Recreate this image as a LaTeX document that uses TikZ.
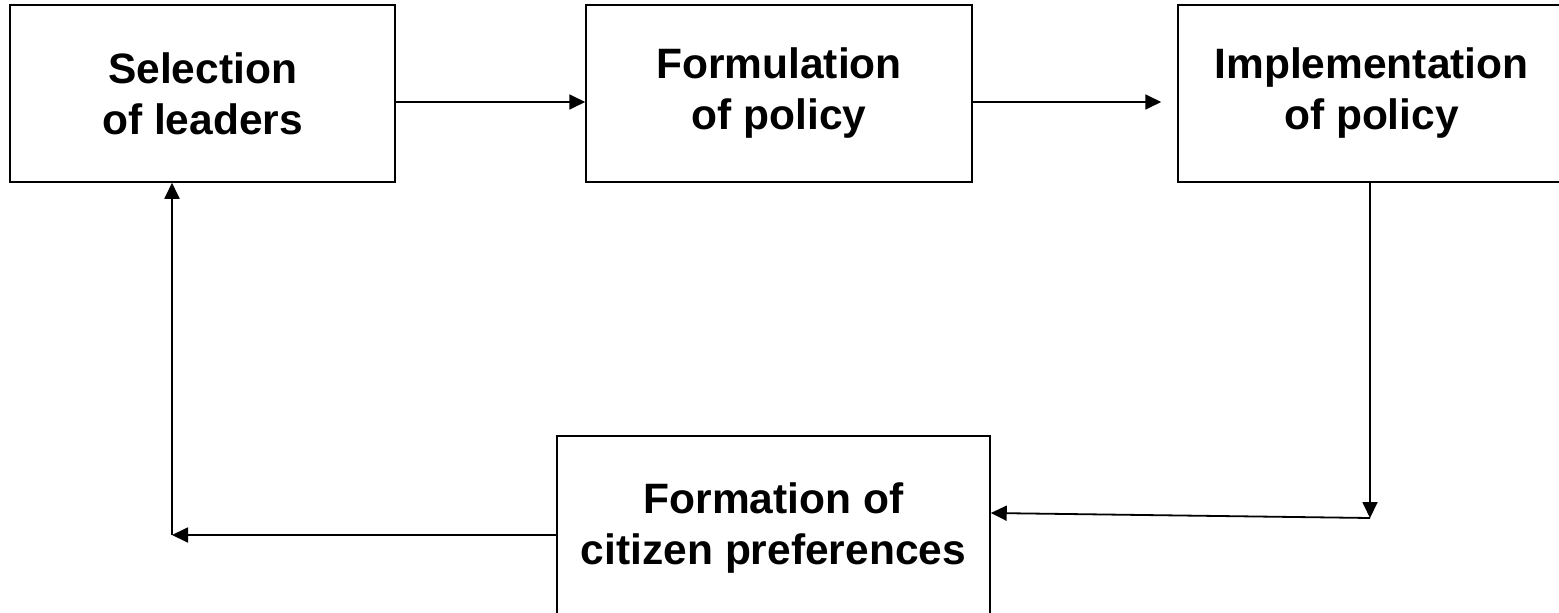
\documentclass[tikz,border=0pt]{standalone}
\usepackage{fontspec}
\setmainfont{Liberation Sans}
\usepackage{tikz}
\usetikzlibrary{arrows.meta}
\usetikzlibrary{positioning}
\tikzset{
    stage/.style={
           rectangle,
           draw=black, line width=1.5pt,
           minimum height=177pt,
           inner sep=0pt,
           align=center,
           font=\fontsize{42.5}{51}\selectfont\bfseries,
           },
    flow/.style={
           -{Triangle[length=16pt,width=15pt]},
           line width=1.8pt,
           },
}
\begin{document}
\begin{tikzpicture}[x=1pt,y=-1pt]

 % page frame
 \useasboundingbox (0,0) rectangle (1559,613);

 % the four stages
 \node[stage, minimum width=385pt] (SELECT) at (202.5,93.5)
 {Selection\\of leaders};
 \node[stage, minimum width=386pt] (FORMUL) at (779,93.5)
 {Formulation\\of policy};
 \node[stage, minimum width=387pt] (IMPLEM) at (1371.5,93.5)
 {Implementation\\of policy};
 \node[stage, minimum width=433pt, minimum height=184pt] (PREFS) at (773.5,528)
 {Formation of\\citizen preferences};

 % corners of the feedback loop
 \coordinate (DOWNEND) at (1370,518);
 \coordinate (LEFTEND) at (172,535);

 % forward path
 \draw[flow] (SELECT.east |- 0,102) -- (FORMUL.west |- 0,102);
 \draw[flow, shorten >=16pt] (FORMUL.east |- 0,102) -- (IMPLEM.west |- 0,102);

 % feedback path
 \draw[flow] (IMPLEM.south -| DOWNEND) -- (DOWNEND);
 \draw[flow] (DOWNEND) -- (PREFS.east |- 0,513);
 \draw[flow] (PREFS.west |- LEFTEND) -- (LEFTEND);
 \draw[flow] (LEFTEND) -- (SELECT.south -| LEFTEND);

\end{tikzpicture}
\end{document}
